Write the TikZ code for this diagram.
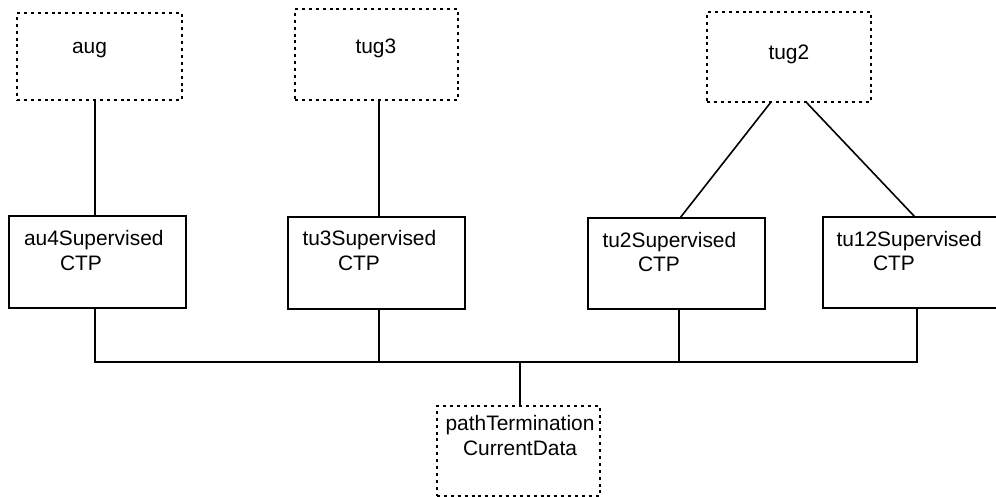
\documentclass[tikz,border=0pt]{standalone}
\usepackage{fontspec}
\setmainfont{Liberation Sans}
\begin{document}
\begin{tikzpicture}[x=1bp,y=-1bp,
  box/.style={draw,line width=1.6bp,rectangle,inner sep=0,outer sep=0},
  dotbox/.style={draw,line width=1.6bp,dash pattern=on 3bp off 3.9bp,rectangle,inner sep=0,outer sep=0},
  lbl/.style={inner sep=0,outer sep=0,font=\fontsize{21}{25}\selectfont},
  conn/.style={draw,line width=1.6bp}]
\useasboundingbox (0,0) rectangle (996,497);
\clip (0,0) rectangle (996,497);
% dotted boxes
\node[dotbox,minimum width=165bp,minimum height=87bp] (aug) at (99.5,56.5) {};
\node[dotbox,minimum width=163bp,minimum height=91bp] (tug3) at (376.5,54.5) {};
\node[dotbox,minimum width=164bp,minimum height=90bp] (tug2) at (789,57) {};
\node[dotbox,minimum width=163bp,minimum height=90bp] (ptcd) at (518.5,451) {};
% solid boxes
\node[box,minimum width=177bp,minimum height=92bp] (au4) at (97.5,262) {};
\node[box,minimum width=177bp,minimum height=92bp] (tu3) at (376.5,263) {};
\node[box,minimum width=177bp,minimum height=91bp] (tu2) at (676.5,263.5) {};
\node[box,minimum width=177bp,minimum height=91bp] (tu12) at (911.5,262.5) {};
% labels
\node[lbl,anchor=base west] (augT) at (72,54) {aug};
\node[lbl,anchor=base west] (tug3T) at (355.5,54) {tug3};
\node[lbl,anchor=base west] (tug2T) at (768.5,60) {tug2};
\node[lbl,anchor=base west] (au4T) at (24,246) {au4Supervised};
\node[lbl,anchor=base west] (au4C) at (60,271) {CTP};
\node[lbl,anchor=base west] (tu3T) at (302.5,246) {tu3Supervised};
\node[lbl,anchor=base west] (tu3C) at (338,271) {CTP};
\node[lbl,anchor=base west] (tu2T) at (602.5,248) {tu2Supervised};
\node[lbl,anchor=base west] (tu2C) at (638,272) {CTP};
\node[lbl,anchor=base west] (tu12T) at (836.5,247) {tu12Supervised};
\node[lbl,anchor=base west] (tu12C) at (873,271) {CTP};
\node[lbl,anchor=base] (ptT) at (520,430) {pathTermination};
\node[lbl,anchor=base] (ptC) at (520,455) {CurrentData};
% connector reference coordinates
\coordinate (xa) at (95,0);
\coordinate (xb) at (379,0);
\coordinate (xc) at (679,0);
\coordinate (xd) at (917,0);
\coordinate (xp) at (520,0);
\coordinate (bus) at (0,362);
\coordinate (g2l) at (771,0);
\coordinate (g2r) at (806,0);
\coordinate (t2t) at (680,0);
\coordinate (t12t) at (915,0);
% upper connectors
\draw[conn] (aug.south -| xa) -- (au4.north -| xa);
\draw[conn] (tug3.south -| xb) -- (tu3.north -| xb);
\draw[conn] (tug2.south -| g2l) -- (tu2.north -| t2t);
\draw[conn] (tug2.south -| g2r) -- (tu12.north -| t12t);
% bus
\draw[conn] (au4.south -| xa) |- (bus -| xd) -- (tu12.south -| xd);
\draw[conn] (tu3.south -| xb) -- (bus -| xb);
\draw[conn] (tu2.south -| xc) -- (bus -| xc);
\draw[conn] (bus -| xp) -- (ptcd.north -| xp);
\end{tikzpicture}
\end{document}
